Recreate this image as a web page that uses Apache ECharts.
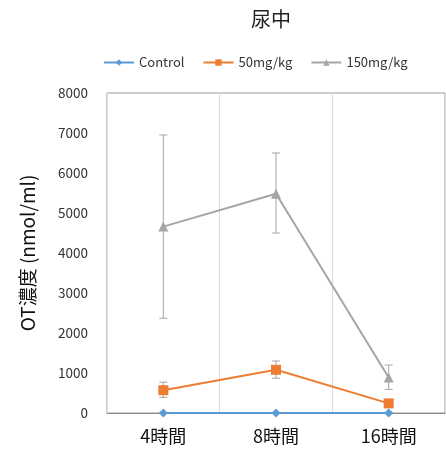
<!DOCTYPE html>
<html><head><meta charset="utf-8">
<script src="https://cdn.jsdelivr.net/npm/echarts@6/dist/echarts.min.js"></script>
<style>html,body{margin:0;padding:0;background:#fff}#c{width:446px;height:459px}</style>
</head><body><div id="c"></div>
<script>
const categories = ['4時間', '8時間', '16時間'];
const seriesNames = ['Control', '50mg/kg', '150mg/kg'];
const control = [0, 0, 0];
const mg50 = [570, 1080, 240];
const mg50Low = [390, 870, 200];
const mg50High = [770, 1300, 280];
const mg150 = [4660, 5480, 890];
const mg150Low = [2370, 4500, 590];
const mg150High = [6950, 6500, 1200];
const yTicks = [0, 1000, 2000, 3000, 4000, 5000, 6000, 7000, 8000];

const font = "'Noto Sans CJK JP', 'Noto Sans', sans-serif";

function errSeries(low, high) {
  return {
    type: 'custom',
    silent: true,
    z: 1,
    data: categories.map((c, i) => [i, low[i], high[i]]),
    renderItem: function (params, api) {
      const x = api.coord([api.value(0), api.value(1)])[0];
      const yl = api.coord([api.value(0), api.value(1)])[1];
      const yh = api.coord([api.value(0), api.value(2)])[1];
      const w = 4;
      const st = { stroke: '#a5a5a5', lineWidth: 1 };
      return {
        type: 'group',
        children: [
          { type: 'line', shape: { x1: x, y1: yl, x2: x, y2: yh }, style: st },
          { type: 'line', shape: { x1: x - w, y1: yl, x2: x + w, y2: yl }, style: st },
          { type: 'line', shape: { x1: x - w, y1: yh, x2: x + w, y2: yh }, style: st }
        ]
      };
    }
  };
}

const chart = echarts.init(document.getElementById('c'));
chart.setOption({
  animation: false,
  textStyle: { fontFamily: font },
  title: {
    text: '尿中', left: 246, top: 4,
    textStyle: { fontFamily: font, fontSize: 20, fontWeight: 'normal', color: '#222' }
  },
  legend: {
    top: 51, left: 98,
    itemWidth: 30, itemHeight: 8, itemGap: 18,
    textStyle: { fontFamily: font, fontSize: 13, color: '#333' },
    data: seriesNames
  },
  grid: { left: 107, right: 1, top: 93, bottom: 46, show: true, borderColor: '#9a9a9a', borderWidth: 1 },
  xAxis: {
    type: 'category', data: categories, boundaryGap: true,
    axisLine: { lineStyle: { color: '#8c8c8c', width: 1 } },
    axisTick: { show: false },
    axisLabel: { fontFamily: font, fontSize: 18, color: '#111', margin: 14 },
    splitLine: { show: true, lineStyle: { color: '#dcdcdc' } }
  },
  yAxis: {
    type: 'value', min: 0, max: 8000, interval: 1000,
    name: 'OT濃度 (nmol/ml)', nameLocation: 'middle', nameGap: 70, nameRotate: 90,
    nameTextStyle: { fontFamily: font, fontSize: 19, color: '#111' },
    axisLine: { show: false }, axisTick: { show: false },
    axisLabel: { fontFamily: font, fontSize: 13.5, color: '#333', margin: 19,
      formatter: v => yTicks.includes(v) ? String(v) : '' },
    splitLine: { show: false }
  },
  series: [
    errSeries(mg150Low, mg150High),
    errSeries(mg50Low, mg50High),
    { name: 'Control', type: 'line', data: control, z: 3,
      symbol: 'diamond', symbolSize: 9,
      itemStyle: { color: '#5b9bd5' }, lineStyle: { color: '#5b9bd5', width: 2 } },
    { name: '50mg/kg', type: 'line', data: mg50, z: 3,
      symbol: 'rect', symbolSize: 10,
      itemStyle: { color: '#ed7d31' }, lineStyle: { color: '#ed7d31', width: 2 } },
    { name: '150mg/kg', type: 'line', data: mg150, z: 3,
      symbol: 'triangle', symbolSize: 10,
      itemStyle: { color: '#a5a5a5' }, lineStyle: { color: '#a5a5a5', width: 2 } }
  ]
});
</script></body></html>
